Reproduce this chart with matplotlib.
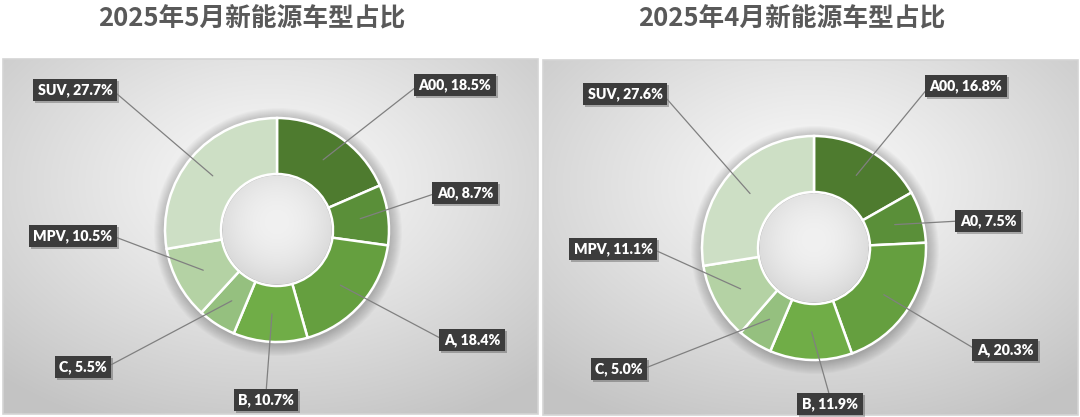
import numpy as np
import matplotlib
matplotlib.use("Agg")
import matplotlib.pyplot as plt
from matplotlib.patches import Circle, Rectangle

# 车型分类与占比 (%)
types = ['A00', 'A0', 'A', 'B', 'C', 'MPV', 'SUV']
may_share = [18.5, 8.7, 18.4, 10.7, 5.5, 10.5, 27.7]
apr_share = [16.8, 7.5, 20.3, 11.9, 5.0, 11.1, 27.6]
titles = ['2025年5月新能源车型占比', '2025年4月新能源车型占比']

colors = ['#4e7b2f', '#5a8f39', '#659f3f', '#70ad47', '#95c07f', '#b4d2a4', '#cddfc5']

# 布局 (像素坐标, y 向下)
W, H = 1080, 417
R_OUT, R_IN = 112, 56
panels = [
    dict(values=may_share, title=titles[0], rect=(3, 59, 538, 414),
         center=(277, 230), title_xy=(252, 18),
         label_xy=[(455, 85), (465, 193), (472, 340), (266, 400),
                   (83, 367), (73, 236), (75, 90)]),
    dict(values=apr_share, title=titles[1], rect=(543, 60, 1078, 415),
         center=(814, 248), title_xy=(792, 18),
         label_xy=[(966, 86), (988, 221), (1005, 350), (830, 404),
                   (619, 369), (613, 249), (625, 94)]),
]

fig = plt.figure(figsize=(W / 100, H / 100), dpi=100)
ax = fig.add_axes([0, 0, 1, 1])
ax.axis('off')


def panel_background(x0, y0, x1, y1):
    w, h = x1 - x0, y1 - y0
    yy, xx = np.mgrid[0:h, 0:w]
    cx, cy = w / 2, h * 0.35
    d = np.sqrt(((xx - cx) / (w / 2)) ** 2 + ((yy - cy) / (h / 2)) ** 2)
    v = (251 - 56 * np.clip(d / 1.5, 0, 1) ** 1.1) / 255
    img = np.dstack([v, v, v])
    ax.imshow(img, extent=(x0, x1, y1, y0), aspect='auto', zorder=0,
              interpolation='bilinear')
    ax.add_patch(Rectangle((x0, y0), w, h, fill=False, ec='#d4d4d4',
                           lw=1.2, zorder=1))


for p in panels:
    cx, cy = p['center']
    panel_background(*p['rect'])

    # 环形外侧的柔和阴影
    for i in range(12):
        ax.add_patch(Circle((cx + 1, cy + 2), R_OUT + 12 - i, color='black',
                            alpha=0.018, lw=0, zorder=2))

    ax.pie(p['values'], colors=colors, center=(cx, cy), radius=R_OUT,
           startangle=-90, counterclock=True,
           wedgeprops=dict(width=R_OUT - R_IN, edgecolor='white',
                           linewidth=1.8, zorder=3))

    # 中心孔的渐变
    n = 200
    yy, xx = np.mgrid[-1:1:n * 1j, -1:1:n * 1j]
    r2 = xx ** 2 + (yy + 0.15) ** 2
    v = np.clip(0.945 - 0.075 * r2, 0, 1)
    hole = ax.imshow(np.dstack([v, v, v]),
                     extent=(cx - R_IN + 2, cx + R_IN - 2, cy + R_IN - 2, cy - R_IN + 2),
                     aspect='auto', zorder=4, interpolation='bilinear')
    clip = Circle((cx, cy), R_IN - 1.5, transform=ax.transData)
    hole.set_clip_path(clip)

    # 标签与引导线
    vals = np.array(p['values'], dtype=float)
    frac = vals / vals.sum()
    mids = np.cumsum(frac) - frac / 2
    theta = np.deg2rad(-90 + mids * 360)
    r_anchor = (R_OUT + R_IN) / 2
    for k, name in enumerate(types):
        axp = cx + r_anchor * np.cos(theta[k])
        ayp = cy + r_anchor * np.sin(theta[k])
        lx, ly = p['label_xy'][k]
        if lx > axp + 30:
            rel = (0, 0.5)
        elif lx < axp - 30:
            rel = (1, 0.5)
        else:
            rel = (0.5, 1)
        text = f'{name}, {vals[k]:.1f}%'
        # 阴影
        ax.text(lx + 2, ly + 2, text, ha='center', va='center', fontsize=10.2,
                family='Lato', weight='heavy', color='none', zorder=5,
                bbox=dict(boxstyle='square,pad=0.32', fc='black', alpha=0.25, lw=0))
        ax.annotate(text, xy=(axp, ayp), xytext=(lx, ly), ha='center', va='center',
                    fontsize=10.2, family='Lato', weight='heavy', color='white',
                    zorder=6,
                    bbox=dict(boxstyle='square,pad=0.32', fc='#3c3c3c', ec='#3c3c3c', lw=0),
                    arrowprops=dict(arrowstyle='-', color='#808080', lw=0.9,
                                    shrinkA=0, shrinkB=0, relpos=rel))

    ax.text(*p['title_xy'], p['title'], ha='center', va='center', fontsize=18.5,
            weight='bold', color='#595959',
            family=['Noto Sans CJK SC', 'DejaVu Sans'])

ax.set_xlim(0, W)
ax.set_ylim(H, 0)
ax.set_aspect('auto')

fig.savefig('out.png', dpi=100)
